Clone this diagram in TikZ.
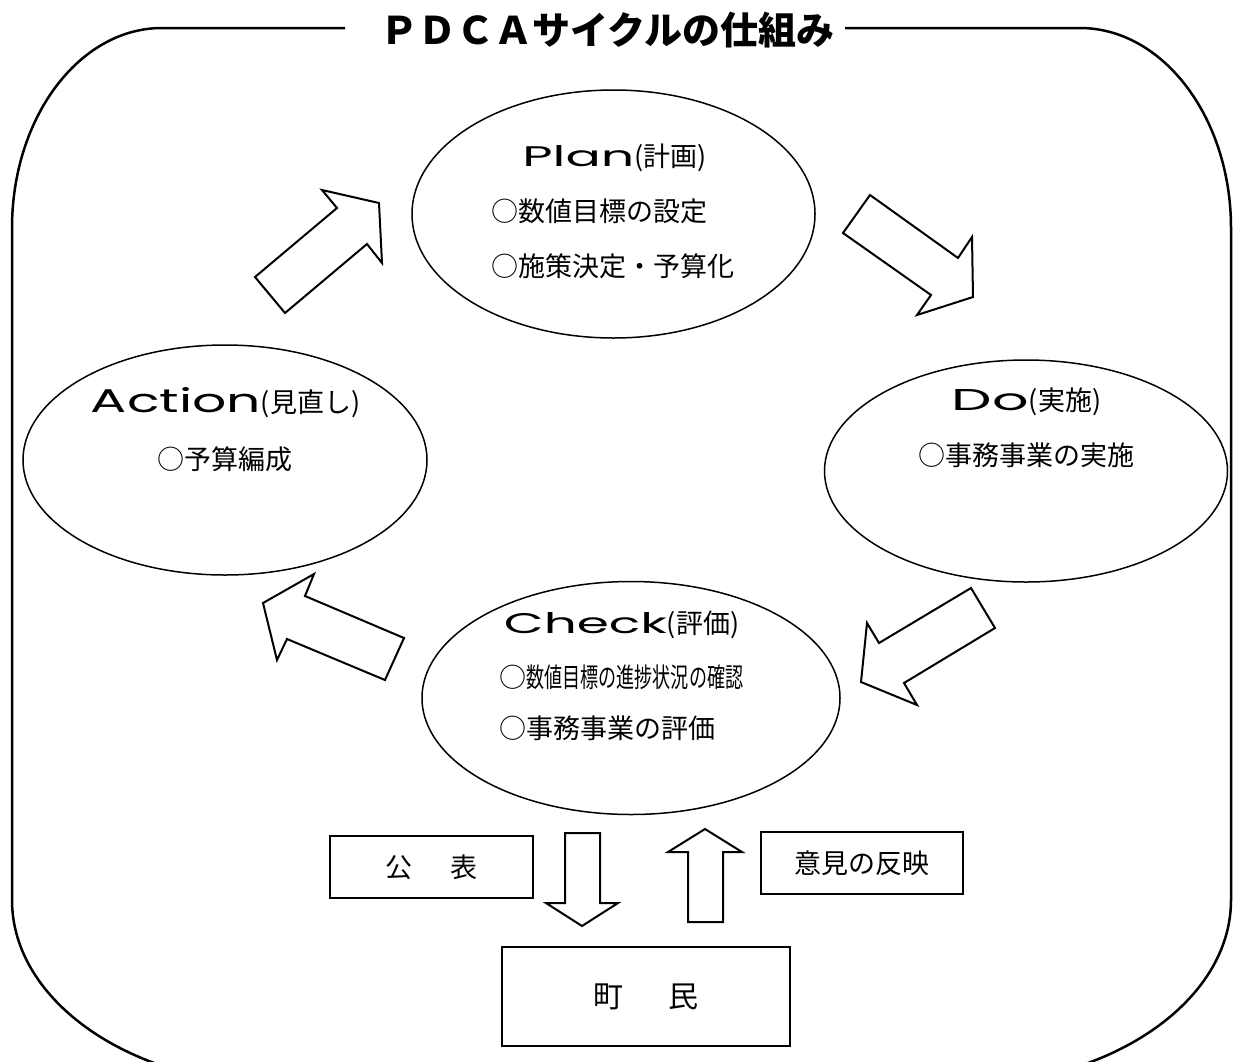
\documentclass[tikz,border=0pt]{standalone}
\usepackage{fontspec}
\usepackage{graphicx}
\newfontfamily\cjk{Noto Sans CJK JP}
\newfontfamily\lat{Poppins}
\usetikzlibrary{shapes.geometric}
\newcommand\latw[3]{\resizebox{#1}{#2}{\lat #3}}
\newcommand\txt{\cjk\fontsize{27}{32}\selectfont}
\tikzset{
  ell/.style={draw, line width=1.5pt, ellipse, inner sep=0pt},
  blockarrow/.style={draw, line width=2pt, line join=miter, fill=white},
  labelbox/.style={draw, line width=2pt, rectangle, inner sep=0pt},
  frame/.style={draw, line width=2.5pt},
  tx/.style={inner sep=0pt, font=\txt},
}
\begin{document}
\begin{tikzpicture}[x=1pt,y=-1pt]
\useasboundingbox (0,0) rectangle (1234,1061);
\clip (0,0) rectangle (1234,1061);
% outer frame
\path[frame] (345,28) -- (162,28)
  .. controls (79.2,28) and (12,117.5) .. (12,228)
  -- (12,900)
  .. controls (12,1002.2) and (132.9,1085) .. (282,1085)
  -- (960,1085)
  .. controls (1109.1,1085) and (1231,1002.2) .. (1231,900)
  -- (1231,228)
  .. controls (1231,117.5) and (1162.8,28) .. (1080,28)
  -- (845,28);
\node[inner sep=0pt] (title) at (607.5,30)
  {\cjk\bfseries\fontsize{38}{42}\selectfont ＰＤＣＡサイクルの仕組み};
% ellipses
\node[ell, minimum width=403pt, minimum height=248pt] (plan) at (613.5,214) {};
\node[ell, minimum width=404pt, minimum height=230pt] (action) at (225,460) {};
\node[ell, minimum width=403pt, minimum height=222pt] (do) at (1026,471) {};
\node[ell, minimum width=418pt, minimum height=233pt] (check) at (631,698) {};
% ellipse texts
\node[tx, anchor=base] (plant) at (614.5,166) {\latw{112pt}{21pt}{Plan}(計画)};
\node[tx, anchor=west] (plan1) at (491,211) {○数値目標の設定};
\node[tx, anchor=west] (plan2) at (491,266) {○施策決定・予算化};
\node[tx, anchor=base] (actiont) at (225.5,412) {\latw{170pt}{25pt}{Action}(見直し)};
\node[tx] (action1) at (225,459) {○予算編成};
\node[tx, anchor=base] (dot) at (1026.5,410) {\latw{77pt}{21pt}{Do}(実施)};
\node[tx] (do1) at (1026,455) {○事務事業の実施};
\node[tx, anchor=base] (checkt) at (621.5,633) {\latw{163pt}{21pt}{Check}(評価)};
\node[tx, anchor=west] (check1) at (499,677) {○\scalebox{0.67}[1]{数値目標の進捗状況の確認}};
\node[tx, anchor=west] (check2) at (499,728) {○事務事業の評価};
% cycle block arrows
\path[blockarrow] (255,277) -- (285,313) -- (367,244) -- (382,263) -- (379,203) -- (322,190) -- (337,208) -- cycle;
\path[blockarrow] (843,233) -- (870,195) -- (958,258) -- (972,237) -- (973,297) -- (917,315) -- (931,295) -- cycle;
\path[blockarrow] (971,588) -- (995,628) -- (904,683) -- (917,705) -- (861,682) -- (867,623) -- (879,643) -- cycle;
\path[blockarrow] (263,603) -- (314,574) -- (305,596) -- (404,638) -- (385,680) -- (287,639) -- (277,660) -- cycle;
% bottom boxes
\node[labelbox, minimum width=203pt, minimum height=62pt] (pub) at (431.5,867) {};
\node[tx] at (pub) {公\hspace{1.4em}表};
\node[labelbox, minimum width=202pt, minimum height=62pt] (opin) at (862,863) {};
\node[tx] at (opin) {意見の反映};
\node[labelbox, minimum width=288pt, minimum height=99pt] (town) at (646,996.5) {};
\node[tx, font=\cjk\fontsize{30}{34}\selectfont] at (town) {町\hspace{1.5em}民};
% vertical block arrows
\path[blockarrow] (565,833) -- (600,833) -- (600,903) -- (618,903) -- (582,926) -- (546,903) -- (565,903) -- cycle;
\path[blockarrow] (705,829) -- (742,852) -- (723,852) -- (723,922) -- (688,922) -- (688,852) -- (668,852) -- cycle;
\end{tikzpicture}
\end{document}
